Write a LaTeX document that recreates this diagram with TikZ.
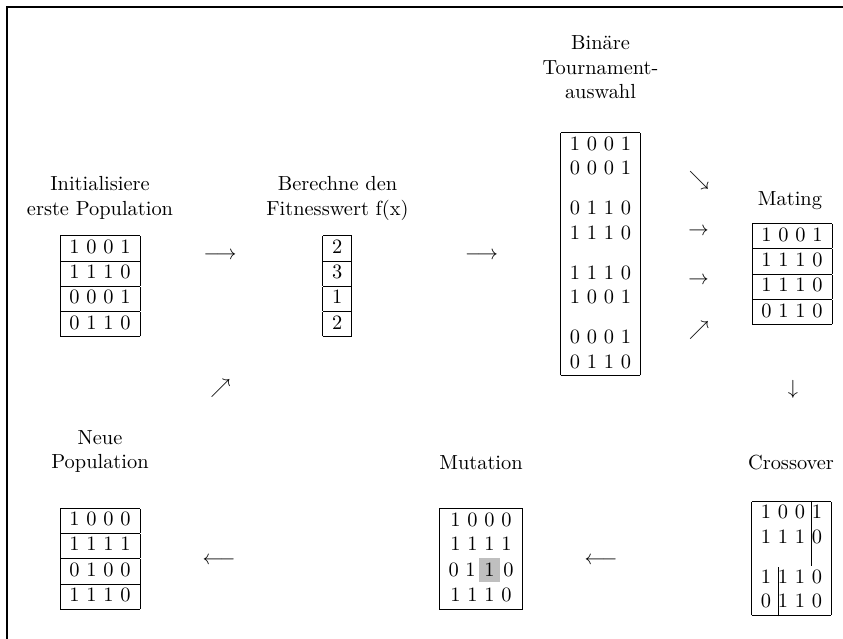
\documentclass[tikz,border=0pt]{standalone}
\usepackage{fontspec}

\setlength{\tabcolsep}{4.6pt}
\setlength{\fboxsep}{2.6pt}

% vier Individuen, jeweils durch Linien getrennt
\newcommand{\populatie}[4]{\begin{tabular}{|c|}\hline #1\\\hline #2\\\hline #3\\\hline #4\\\hline\end{tabular}}

\tikzset{
    kop/.style={anchor=north, align=center, inner sep=0pt},
    tabel/.style={inner sep=0pt},
    pijl/.style={inner sep=0pt},
}

\begin{document}
\begin{tikzpicture}[x=0.4902pt, y=-0.4902pt]
                \useasboundingbox (0,0) rectangle (843,639);
                \draw[line width=0.5pt] (843,7) -- (7,7) -- (7,639);

                % Beschriftungen
                \node[kop] (kop1) at (100,176.3) {Initialisiere\\erste Population};
                \node[kop] (kop2) at (337.5,176.3) {Berechne den\\Fitnesswert f(x)};
                \node[kop] (kop3) at (600.5,35.5) {Binäre\\Tournament-\\auswahl};
                \node[kop] (kop4) at (790,191) {Mating};
                \node[kop] (kop5) at (100,430) {Neue\\Population};
                \node[kop] (kop6) at (481,455) {Mutation};
                \node[kop] (kop7) at (791,455) {Crossover};

                % Populationen
                \node[tabel] (init) at (100,286.3) {\populatie{1 0 0 1}{1 1 1 0}{0 0 0 1}{0 1 1 0}};
                \node[tabel] (fit) at (337.3,286.3) {\populatie{2}{3}{1}{2}};
                \node[tabel] (tour) at (600.5,254.2) {\begin{tabular}{|c|}\hline
                    1 0 0 1\\ 0 0 0 1\\[7.6pt]
                    0 1 1 0\\ 1 1 1 0\\[7.6pt]
                    1 1 1 0\\ 1 0 0 1\\[7.6pt]
                    0 0 0 1\\ 0 1 1 0\\\hline\end{tabular}};
                \node[tabel] (mate) at (792,274.2) {\populatie{1 0 0 1}{1 1 1 0}{1 1 1 0}{0 1 1 0}};
                \node[tabel] (cross) at (791.5,558.5) {\begin{tabular}{|c|}\hline
                    1 0 0 1\\ 1 1 1 0\\[7.6pt]
                    1 1 1 0\\ 0 1 1 0\\\hline\end{tabular}};
                \node[tabel] (mut) at (481,558.8) {\begin{tabular}{|c|}\hline
                    1 0 0 0\\ 1 1 1 1\\ 0 1\,\colorbox{lightgray}{1}\,0\\ 1 1 1 0\\\hline\end{tabular}};
                \node[tabel] (neu) at (100,558.7) {\populatie{1 0 0 0}{1 1 1 1}{0 1 0 0}{1 1 1 0}};

                % Kreuzungspunkte
                \draw ([shift={(19.5,0)}]cross.north) -- ++(0,65.3);
                \draw ([shift={(-13.2,0)}]cross.south) -- ++(0,-49.7);

                % Pfeile zwischen den Schritten
                \node[pijl] (p1) at (220,256) {$\longrightarrow$};
                \node[pijl] (p2) at (481.5,256) {$\longrightarrow$};
                \node[pijl] (p3) at (699,180) {$\searrow$};
                \node[pijl] (p4) at (698.5,231.4) {$\rightarrow$};
                \node[pijl] (p5) at (698.5,280.9) {$\rightarrow$};
                \node[pijl] (p6) at (699,330) {$\nearrow$};
                \node[pijl] (p7) at (793,389) {$\downarrow$};
                \node[pijl] (p8) at (601,560.4) {$\longleftarrow$};
                \node[pijl] (p9) at (219,560.7) {$\longleftarrow$};
                \node[pijl] (p10) at (220.5,388.5) {$\nearrow$};
\end{tikzpicture}
\end{document}
